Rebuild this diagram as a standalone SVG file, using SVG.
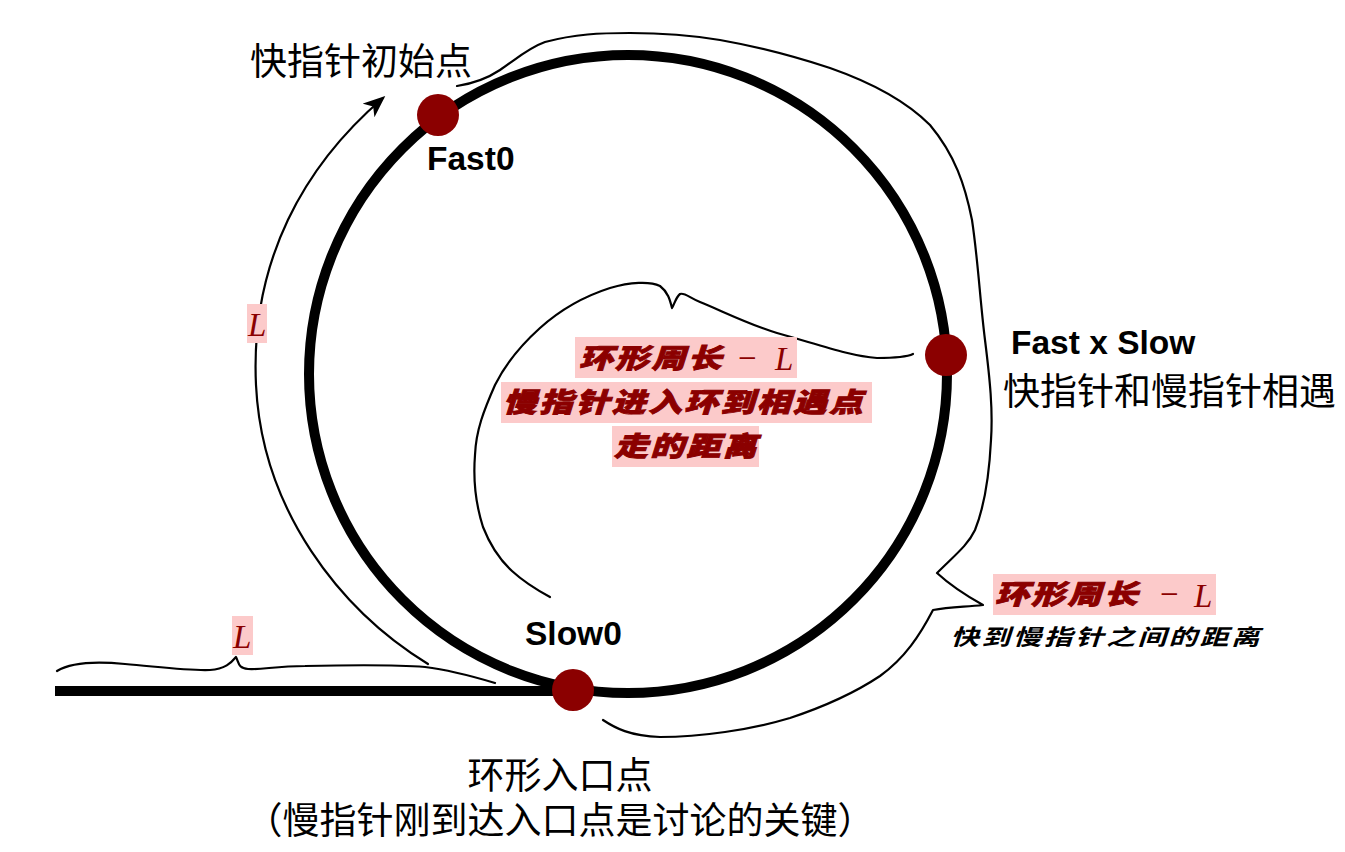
<svg xmlns="http://www.w3.org/2000/svg" width="1345" height="852" viewBox="0 0 1345 852">
<style>
.thick{fill:none;stroke:#000;stroke-width:10}
.thin{fill:none;stroke:#000;stroke-width:2.2;stroke-linecap:round;stroke-linejoin:round}
.dot{fill:#8B0000}
.en{font-family:"Liberation Sans",Arial,sans-serif;font-weight:bold;font-size:33.5px;fill:#000}
.cn{font-family:"Noto Sans CJK SC","Noto Sans",sans-serif;font-size:37px;fill:#000}
.bg{fill:#FCCACA}
.br{font-family:"Noto Sans CJK SC",sans-serif;font-weight:900;font-style:italic;font-size:27px;letter-spacing:2px;fill:#8B0000;stroke:#8B0000;stroke-width:0.9}
.L{font-family:"Liberation Serif","Times New Roman",serif;font-style:italic;font-size:33px;fill:#8B0000}
.note{font-family:"Noto Sans CJK SC",sans-serif;font-weight:700;font-style:italic;font-size:22px;letter-spacing:2px;fill:#000}
</style>
<defs>
<marker id="ah" markerUnits="userSpaceOnUse" markerWidth="24" markerHeight="20" refX="19" refY="9" orient="auto">
<path d="M0,0 L22,9 L0,18 L6,9 Z" fill="#000"/>
</marker>
</defs>
<rect width="1345" height="852" fill="#fff"/>
<g id="connectors">
<path class="thin" marker-end="url(#ah)" d="M428,664 C340,610 262,510 256,385 C250,260 305,165 383,98"/>
<path class="thin" d="M457,86 C470,84 485,80 500,70 C515,60 528,48 545,42 C575,34 600,33 630,33 C660,33 690,35 720,40 C760,47 790,55 830,68 C870,82 905,100 930,125 C955,155 965,185 972,220 C978,260 980,300 985,340 C990,380 993,410 991,440 C989,480 983,510 975,530 C968,545 955,555 937,573 C950,585 965,595 983,605 C965,607 950,607 933,610 C920,635 905,658 880,676 C850,696 820,708 790,718 C750,730 700,737 660,737 C630,736 615,728 603,720"/>
<path class="thin" d="M913,354 C905,358 890,358 877,358 C850,356 820,345 777,333 C750,325 720,310 700,302 C690,298 684,292 680,294 C676,297 674,305 672,308 C670,300 668,292 660,286 C650,281 630,282 610,288 C585,296 560,310 540,328 C520,346 505,365 495,385 C484,410 476,430 475,455 C473,480 476,505 483,527 C490,545 500,560 512,571 C524,582 537,590 550,597"/>
<path class="thin" d="M57,671 C70,663 95,661 125,664 C160,667 190,671 210,670 C225,669 231,663 236,657 C239,663 238,668 248,669 C262,670 275,666 305,666 C350,665 400,665 425,667 C450,670 475,677 495,683"/>
</g>
<g id="ring"><circle class="thick" cx="628" cy="374" r="319"/></g>
<g id="entry-line"><line class="thick" x1="55" y1="691" x2="565" y2="691"/></g>
<g id="fast0">
<circle class="dot" cx="438" cy="115" r="21"/>
<text class="en" x="427" y="170">Fast0</text>
<text class="cn" x="250" y="75">快指针初始点</text>
</g>
<g id="meet">
<circle class="dot" cx="946" cy="355" r="21"/>
<text class="en" x="1011" y="354">Fast x Slow</text>
<text class="cn" x="1003" y="405">快指针和慢指针相遇</text>
</g>
<g id="slow0">
<circle class="dot" cx="573" cy="690" r="21"/>
<text class="en" x="525" y="645">Slow0</text>
<text class="cn" x="560" y="789" text-anchor="middle">环形入口点</text>
<text class="cn" x="560" y="834" text-anchor="middle">（慢指针刚到达入口点是讨论的关键）</text>
</g>
<g id="label-inner">
<rect class="bg" x="575" y="337" width="222" height="41"/>
<rect class="bg" x="501" y="382" width="371" height="41"/>
<rect class="bg" x="612" y="426" width="147" height="41"/>
<g transform="scale(1.25,1)">
<text class="br" x="463.2" y="368">环形周长</text>
<text class="br" x="402.4" y="412">慢指针进入环到相遇点</text>
<text class="br" x="491.2" y="456">走的距离</text>
</g>
<text class="L" x="738" y="369" style="font-style:normal">−</text>
<text class="L" x="775" y="370">L</text>
</g>
<g id="label-outer">
<rect class="bg" x="993" y="574" width="223" height="41"/>
<g transform="scale(1.25,1)">
<text class="br" x="796" y="604">环形周长</text>
</g>
<text class="L" x="1160" y="605" style="font-style:normal">−</text>
<text class="L" x="1194" y="607">L</text>
<g transform="scale(1.3,1)">
<text class="note" x="731" y="645">快到慢指针之间的距离</text>
</g>
</g>
<g id="label-L1">
<rect class="bg" x="247" y="304" width="20" height="39"/>
<text class="L" x="248" y="336">L</text>
</g>
<g id="label-L2">
<rect class="bg" x="232" y="616" width="21" height="39"/>
<text class="L" x="233" y="648">L</text>
</g>
</svg>
